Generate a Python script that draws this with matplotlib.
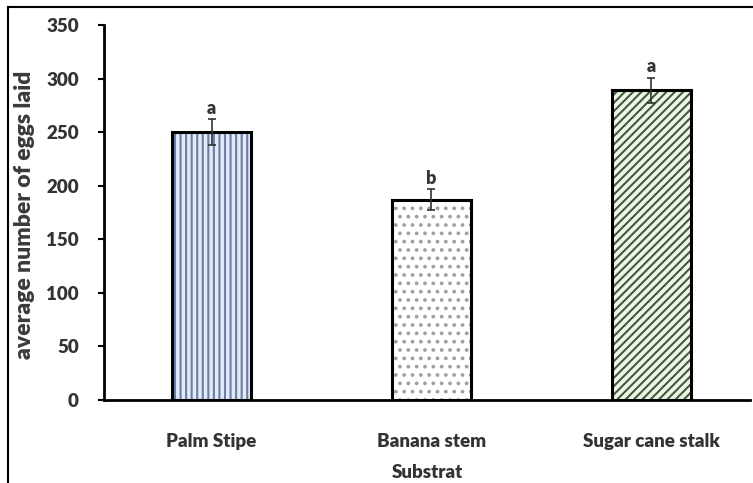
import matplotlib.pyplot as plt
from matplotlib.lines import Line2D

plt.rcParams['font.family'] = ['Lato', 'DejaVu Sans']
plt.rcParams['hatch.linewidth'] = 1.5

substrates = ['Palm Stipe', 'Banana stem', 'Sugar cane stalk']
eggs = [250, 187, 289]
errors = [12, 10, 12]
letters = ['a', 'b', 'a']

fills = ['#e3e9f5', 'white', '#eef5e8']
hatch_colors = ['#6a7ea6', '#a0a0a0', '#3f5c39']
hatches = ['|||', '..', '////']

fig = plt.figure(figsize=(7.53, 4.83), dpi=100)
ax = fig.add_axes([0.138, 0.172, 0.858, 0.776])

x = range(len(substrates))
bars = ax.bar(x, eggs, width=0.36, color=fills, edgecolor='black', linewidth=2, zorder=2)
for b, hc, h in zip(bars, hatch_colors, hatches):
    b.set_hatch(h)
    b._hatch_color = plt.matplotlib.colors.to_rgba(hc)
# redraw outlines on top of hatching
ax.bar(x, eggs, width=0.36, fill=False, edgecolor='black', linewidth=2.2, zorder=3)

ax.errorbar(x, eggs, yerr=errors, fmt='none', ecolor='#333333', elinewidth=1.2,
            capsize=3, capthick=1.2, zorder=4)
for i, (v, e, t) in enumerate(zip(eggs, errors, letters)):
    ax.text(i, v + e + 2, t, ha='center', va='bottom', fontsize=13,
            fontweight='heavy', color='#333333')

ax.set_xlim(-0.49, 2.45)
ax.set_ylim(0, 350)
ax.set_yticks(range(0, 351, 50))
ax.set_xticks(list(x))
ax.set_xticklabels(substrates, fontsize=13.5, fontweight='heavy', color='#333333')
ax.tick_params(axis='x', length=0, pad=24)
ax.tick_params(axis='y', direction='out', length=4, width=1.5, labelsize=13.5,
               labelcolor='#333333', pad=14)
for lbl in ax.get_yticklabels():
    lbl.set_fontweight('heavy')

ax.set_xlabel('Substrat', fontsize=13.5, fontweight='heavy', color='#333333', labelpad=10)
ax.set_ylabel('average number of eggs laid', fontsize=16.5, fontweight='heavy',
              color='#3a3a3a')
ax.yaxis.set_label_coords(-0.106, 0.495)

for s in ['top', 'right']:
    ax.spines[s].set_visible(False)
for s in ['left', 'bottom']:
    ax.spines[s].set_linewidth(2)

# outer frame (left and top edges)
W, H = 753, 483
fig.add_artist(Line2D([8 / W, 8 / W], [0, 1 - 7 / H], color='black', lw=1.5))
fig.add_artist(Line2D([8 / W, 752 / W], [1 - 7 / H, 1 - 7 / H], color='black', lw=1.5))

fig.savefig('out.png', dpi=100)
